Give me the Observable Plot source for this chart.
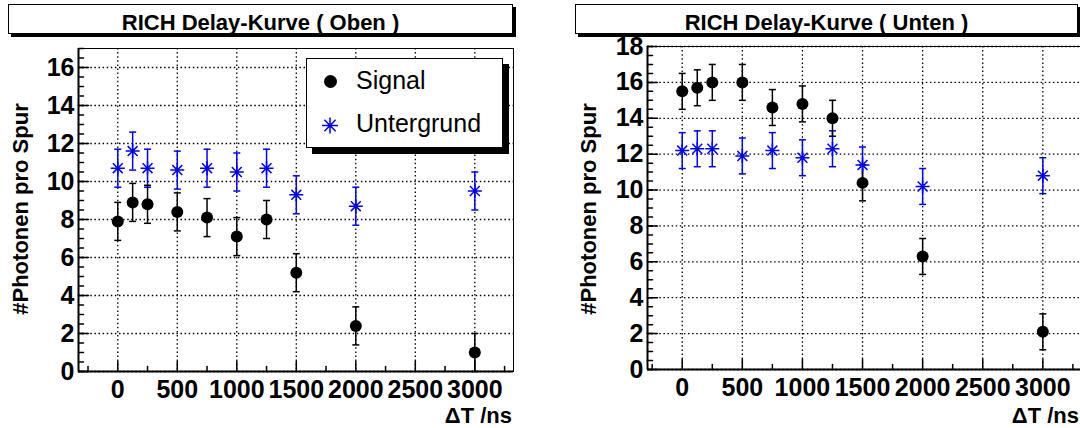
<!DOCTYPE html>
<html><head><meta charset="utf-8">
<script src="https://cdn.jsdelivr.net/npm/d3@7"></script>
<script src="https://cdn.jsdelivr.net/npm/@observablehq/plot@0.6"></script>
<style>
body{margin:0;background:#fff;}
#wrap{position:relative;width:1080px;height:428px;overflow:hidden;background:#fff;font-family:"Liberation Sans",Arial,Helvetica,sans-serif;color:#000;}
.plotbox{position:absolute;top:0;height:428px;}
.plotbox svg{max-width:none !important;display:block;}
.tbox{position:absolute;top:4px;height:30px;box-sizing:border-box;border:1px solid #000;background:#fff;box-shadow:3px 3px 0 #000;}
.ttext{position:absolute;top:12px;font-size:22px;line-height:22px;font-weight:bold;text-align:center;white-space:nowrap;}
.ylab{position:absolute;font-size:22px;line-height:22px;font-weight:bold;white-space:nowrap;transform:translate(-50%,-50%) rotate(-90deg);}
.xlab{position:absolute;font-size:22px;line-height:18px;font-weight:bold;white-space:nowrap;transform:translateX(-100%);}
.legbox{position:absolute;left:306px;top:58px;width:197px;height:90px;box-sizing:border-box;border:1px solid #000;background:#fff;box-shadow:6px 6px 0 #000;}
.legtext{position:absolute;font-size:25px;line-height:25px;white-space:nowrap;}
</style></head>
<body>
<div id="wrap"></div>
<script>
// ---- data ----
const xTicks = [0, 500, 1000, 1500, 2000, 2500, 3000];
const xMinorTicks = [-250, 250, 750, 1250, 1750, 2250, 2750, 3250];
const yTicksOben = [0, 2, 4, 6, 8, 10, 12, 14, 16];
const yTicksUnten = [0, 2, 4, 6, 8, 10, 12, 14, 16, 18];

const dtOben = [0, 125, 250, 500, 750, 1000, 1250, 1500, 2000, 3000];
const signalOben = [7.9, 8.9, 8.8, 8.4, 8.1, 7.1, 8.0, 5.2, 2.4, 1.0];
const signalObenErr = [1.0, 1.0, 1.0, 1.0, 1.0, 1.0, 1.0, 1.0, 1.0, 1.0];
const untergrundOben = [10.7, 11.6, 10.7, 10.6, 10.7, 10.5, 10.7, 9.3, 8.7, 9.5];
const untergrundObenErr = [1.0, 1.0, 1.0, 1.0, 1.0, 1.0, 1.0, 1.0, 1.0, 1.0];

const dtUnten = [0, 125, 250, 500, 750, 1000, 1250, 1500, 2000, 3000];
const signalUnten = [15.5, 15.7, 16.0, 16.0, 14.6, 14.8, 14.0, 10.4, 6.3, 2.1];
const signalUntenErr = [1.0, 1.0, 1.0, 1.0, 1.0, 1.0, 1.0, 1.0, 1.0, 1.0];
const untergrundUnten = [12.2, 12.3, 12.3, 11.9, 12.2, 11.8, 12.3, 11.4, 10.2, 10.8];
const untergrundUntenErr = [1.0, 1.0, 1.0, 1.0, 1.0, 1.0, 1.0, 1.0, 1.0, 1.0];

const titles = ["RICH Delay-Kurve ( Oben )", "RICH Delay-Kurve ( Unten )"];
const yLabel = "#Photonen pro Spur";
const xLabel = "\u0394T /ns";
const legendLabels = ["Signal", "Untergrund"];

// ---- shapes ----
const tickShape = {draw(ctx, l) { ctx.moveTo(0, 0); ctx.lineTo(0, -l); }};
const capSymbol = {draw(ctx, size) { const r = Math.sqrt(size / Math.PI); ctx.moveTo(-r, 0); ctx.lineTo(r, 0); }};
const starSymbol = {draw(ctx, size) {
  const r = Math.sqrt(size / Math.PI);
  for (const a of [0, 45, 90, 135]) {
    const c = Math.cos(a * Math.PI / 180) * r, s = Math.sin(a * Math.PI / 180) * r;
    ctx.moveTo(c, s); ctx.lineTo(-c, -s);
  }
}};

function panel(o) {
  const sig = o.dt.map((x, i) => ({x, y: o.sig[i], e: o.sigErr[i]}));
  const bg = o.dt.map((x, i) => ({x, y: o.bg[i], e: o.bgErr[i]}));
  const caps = (arr) => arr.flatMap(d => [{x: d.x, y: d.y - d.e}, {x: d.x, y: d.y + d.e}]);
  const yMinor = d3.range(0, o.yMax + 0.001, 0.5);
  const blue = "#0000ff";
  return Plot.plot({
    width: o.width, height: 428,
    marginLeft: o.marginLeft, marginRight: o.marginRight, marginTop: o.marginTop, marginBottom: o.marginBottom,
    style: {background: "transparent", overflow: "visible", maxWidth: "none", fontFamily: "Liberation Sans, Arial, sans-serif", color: "#000"},
    x: {domain: o.xDomain, axis: null},
    y: {domain: [0, o.yMax], axis: null},
    marks: [
      Plot.gridX(xTicks, {stroke: "#000", strokeOpacity: 1, strokeWidth: 1.3, strokeDasharray: "1.5,2.6"}),
      Plot.gridY(o.yTicks, {stroke: "#000", strokeOpacity: 1, strokeWidth: 1.3, strokeDasharray: "1.5,2.6"}),
      Plot.frame({stroke: "#000", strokeWidth: 1}),
      Plot.ruleX([o.xDomain[0]], {stroke: "#000", strokeWidth: 2}),
      Plot.ruleY([0], {stroke: "#000", strokeWidth: 2}),
      Plot.vector(yMinor, {y: d => d, frameAnchor: "left", rotate: 90, length: 5, anchor: "start", shape: tickShape, stroke: "#000", strokeWidth: 1.5}),
      Plot.vector(o.yTicks, {y: d => d, frameAnchor: "left", rotate: 90, length: 10, anchor: "start", shape: tickShape, stroke: "#000", strokeWidth: 1.5}),
      Plot.vector(xMinorTicks, {x: d => d, frameAnchor: "bottom", rotate: 0, length: 5, anchor: "start", shape: tickShape, stroke: "#000", strokeWidth: 1.5}),
      Plot.vector(xTicks, {x: d => d, frameAnchor: "bottom", rotate: 0, length: 10, anchor: "start", shape: tickShape, stroke: "#000", strokeWidth: 1.5}),
      Plot.axisY(o.yTicks, {tickSize: 0, tickPadding: 4, fontSize: 25, fontWeight: "bold", fill: "#000", label: null, tickFormat: d => String(d)}),
      Plot.axisX(xTicks, {tickSize: 0, tickPadding: 9, fontSize: 25, fontWeight: "bold", fill: "#000", label: null, tickFormat: d => String(d)}),
      // error bars
      Plot.ruleX(bg, {x: "x", y1: d => d.y - d.e, y2: d => d.y + d.e, stroke: blue, strokeWidth: 1.5}),
      Plot.dot(caps(bg), {x: "x", y: "y", r: 3.5, symbol: capSymbol, stroke: blue, strokeWidth: 1.5, fill: "none"}),
      Plot.ruleX(sig, {x: "x", y1: d => d.y - d.e, y2: d => d.y + d.e, stroke: "#000", strokeWidth: 1.5}),
      Plot.dot(caps(sig), {x: "x", y: "y", r: 3.5, symbol: capSymbol, stroke: "#000", strokeWidth: 1.5, fill: "none"}),
      // markers
      Plot.dot(bg, {x: "x", y: "y", r: 7, symbol: starSymbol, stroke: blue, strokeWidth: 1.5, fill: "none"}),
      Plot.dot(sig, {x: "x", y: "y", r: 6, fill: "#000", stroke: "none"})
    ]
  });
}

const wrap = document.getElementById("wrap");

function place(el, left, width) {
  const d = document.createElement("div");
  d.className = "plotbox";
  d.style.left = left + "px";
  d.style.width = width + "px";
  d.appendChild(el);
  wrap.appendChild(d);
}

place(panel({
  dt: dtOben, sig: signalOben, sigErr: signalObenErr, bg: untergrundOben, bgErr: untergrundObenErr,
  yMax: 17, yTicks: yTicksOben, xDomain: [-330, 3325],
  width: 540, marginLeft: 78, marginRight: 27, marginTop: 48, marginBottom: 57
}), 0, 540);

place(panel({
  dt: dtUnten, sig: signalUnten, sigErr: signalUntenErr, bg: untergrundUnten, bgErr: untergrundUntenErr,
  yMax: 18, yTicks: yTicksUnten, xDomain: [-289, 3355],
  width: 560, marginLeft: 107, marginRight: 15, marginTop: 46, marginBottom: 59
}), 540, 560);

function addDiv(cls, text, styles) {
  const d = document.createElement("div");
  d.className = cls;
  if (text != null) d.textContent = text;
  Object.assign(d.style, styles);
  wrap.appendChild(d);
  return d;
}

// title boxes
addDiv("tbox", null, {left: "8px", width: "505px"});
addDiv("ttext", titles[0], {left: "8px", width: "505px"});
addDiv("tbox", null, {left: "575px", width: "503px"});
addDiv("ttext", titles[1], {left: "575px", width: "503px"});

// axis labels
addDiv("ylab", yLabel, {left: "21px", top: "209px"});
addDiv("ylab", yLabel, {left: "589px", top: "209px"});
addDiv("xlab", xLabel, {left: "512px", top: "407px"});
addDiv("xlab", xLabel, {left: "1079px", top: "407px"});

// legend
addDiv("legbox", null, {});
addDiv("legtext", legendLabels[0], {left: "356px", top: "68px"});
addDiv("legtext", legendLabels[1], {left: "356px", top: "111px"});
const ns = "http://www.w3.org/2000/svg";
const lsvg = document.createElementNS(ns, "svg");
lsvg.setAttribute("width", "40"); lsvg.setAttribute("height", "80");
Object.assign(lsvg.style, {position: "absolute", left: "310px", top: "62px"});
const c = document.createElementNS(ns, "circle");
c.setAttribute("cx", "20.5"); c.setAttribute("cy", "19.5"); c.setAttribute("r", "6.5"); c.setAttribute("fill", "#000");
lsvg.appendChild(c);
const p = document.createElementNS(ns, "path");
let dstr = "";
for (const a of [0, 45, 90, 135]) {
  const cc = Math.cos(a * Math.PI / 180) * 8, s = Math.sin(a * Math.PI / 180) * 8;
  dstr += `M${20 + cc},${63.5 + s}L${20 - cc},${63.5 - s}`;
}
p.setAttribute("d", dstr); p.setAttribute("stroke", "#0000ff"); p.setAttribute("stroke-width", "1.5"); p.setAttribute("fill", "none");
lsvg.appendChild(p);
wrap.appendChild(lsvg);
</script>
</body></html>
